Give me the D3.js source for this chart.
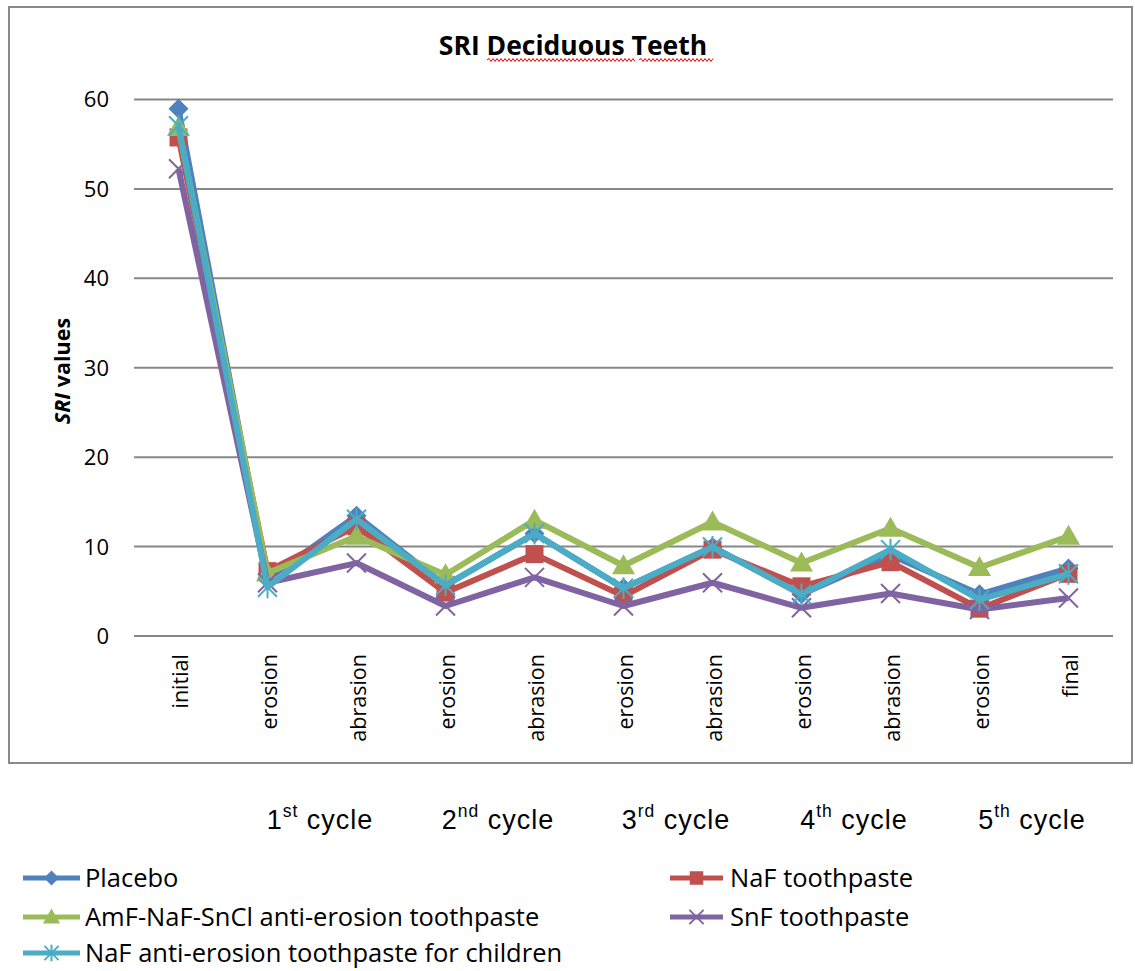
<!DOCTYPE html>
<html><head><meta charset="utf-8">
<script src="https://cdn.jsdelivr.net/npm/d3@7"></script>
<style>body{margin:0;background:#fff}svg{display:block}</style>
</head><body>
<svg id="c" width="1135" height="971"></svg>
<script>
// ---- data ----
const categories = ["initial","erosion","abrasion","erosion","abrasion","erosion","abrasion","erosion","abrasion","erosion","final"];
const yTicks = [0,10,20,30,40,50,60];
const cycleNums = ["1","2","3","4","5"];
const cycleSups = ["st","nd","rd","th","th"];
const seriesNames = ["Placebo","NaF toothpaste","AmF-NaF-SnCl anti-erosion toothpaste","SnF toothpaste","NaF anti-erosion toothpaste for children"];
const placebo  = [58.9, 6.3, 13.4, 5.6, 11.4, 5.3, 9.9, 4.6, 9.0, 4.6, 7.5];
const naf      = [55.7, 7.2, 12.2, 4.8,  9.1, 4.4, 9.6, 5.5, 8.2, 3.0, 6.9];
const amf      = [56.8, 7.0, 11.1, 6.8, 12.9, 7.8, 12.7, 8.1, 12.0, 7.6, 11.1];
const snf      = [52.2, 5.9,  8.1, 3.3,  6.5, 3.3, 5.9, 3.1, 4.7, 2.9, 4.2];
const children = [57.0, 5.4, 13.0, 5.6, 11.4, 5.3, 9.9, 4.6, 9.6, 4.0, 6.9];
const seriesValues = [placebo, naf, amf, snf, children];

// ---- styles ----
const colors = ["#4F81BD","#C0504D","#9BBB59","#8064A2","#4BACC6"];
const markers = ["diamond","square","triangle","x","asterisk"];

const svg = d3.select("#c");

// outer frame
svg.append("rect").attr("x",9).attr("y",7).attr("width",1123).attr("height",756)
  .attr("fill","#fff").attr("stroke","#898989").attr("stroke-width",2);

const pLeft = 134, pRight = 1113, pTop = 99, pBottom = 635.5;
const x = d3.scalePoint().domain(d3.range(categories.length)).range([pLeft,pRight]).padding(0.5);
const y = d3.scaleLinear().domain([0,60]).range([pBottom,pTop]);

// title
svg.append("text").attr("x",573).attr("y",55).attr("text-anchor","middle")
  .attr("font-family","Open Sans").attr("font-weight","bold").attr("font-size",26.5)
  .attr("fill","#000").text("SRI Deciduous Teeth");
// spell-check squiggle
function squiggle(x0,x1,yy){
  let d = `M${x0},${yy}`; let up = true;
  for(let xx=x0+2; xx<=x1; xx+=2){ d += `L${xx},${yy + (up?-1.5:1.5)}`; up=!up; }
  return d;
}
svg.append("path").attr("d",squiggle(487,635,60)).attr("fill","none").attr("stroke","#e00").attr("stroke-width",1);
svg.append("path").attr("d",squiggle(639,713,60)).attr("fill","none").attr("stroke","#e00").attr("stroke-width",1);

// y axis with gridlines
const yAxis = svg.append("g").attr("transform",`translate(${pLeft},0)`)
  .call(d3.axisLeft(y).tickValues(yTicks).tickSize(-(pRight-pLeft)).tickPadding(25));
yAxis.select(".domain").remove();
yAxis.selectAll(".tick line").attr("stroke","#878787").attr("stroke-width",2);
yAxis.selectAll(".tick text").attr("font-family","Open Sans").attr("font-size",22).attr("fill","#000").attr("dy","0.36em");

// y title
const yt = svg.append("text").attr("transform","translate(70,371) rotate(-90)")
  .attr("text-anchor","middle").attr("font-family","Open Sans").attr("font-weight","bold").attr("font-size",21.5).attr("fill","#000");
yt.append("tspan").attr("font-style","italic").text("SRI");
yt.append("tspan").text(" values");

// x labels
svg.append("g").selectAll("text").data(categories).join("text")
  .attr("transform",(d,i)=>`translate(${x(i)+9},654) rotate(-90)`)
  .attr("text-anchor","end").attr("font-family","Open Sans").attr("font-size",21.5).attr("fill","#000")
  .text(d=>d);

// cycle labels
cycleNums.forEach((n,k)=>{
  const cx = (x(2*k+1)+x(2*k+2))/2 + 8;
  const t = svg.append("text").attr("x",cx).attr("y",829).attr("text-anchor","middle")
    .attr("font-family","Liberation Sans, Arial").attr("font-size",27).attr("letter-spacing",1).attr("fill","#000");
  t.append("tspan").text(n);
  t.append("tspan").attr("font-size",17.5).attr("dy",-12).text(cycleSups[k]);
  t.append("tspan").attr("dy",12).text(" cycle");
});

// marker drawing
function drawMarker(g, type, color, s){
  if(type==="diamond"){
    g.append("path").attr("d",`M0,${-10*s}L${10*s},0L0,${10*s}L${-10*s},0Z`).attr("fill",color);
  } else if(type==="square"){
    g.append("rect").attr("x",-9*s).attr("y",-9*s).attr("width",18*s).attr("height",18*s).attr("fill",color);
  } else if(type==="triangle"){
    g.append("path").attr("d",`M0,${-11.5*s}L${11.5*s},${8.5*s}L${-11.5*s},${8.5*s}Z`).attr("fill",color);
  } else if(type==="x"){
    const r=9.5*s;
    g.append("path").attr("d",`M${-r},${-r}L${r},${r}M${-r},${r}L${r},${-r}`).attr("stroke",color).attr("stroke-width",2).attr("fill","none");
  } else if(type==="asterisk"){
    const r=9.5*s;
    g.append("path").attr("d",`M${-r},${-r}L${r},${r}M${-r},${r}L${r},${-r}M0,${-r*1.15}L0,${r*1.15}`).attr("stroke",color).attr("stroke-width",2).attr("fill","none");
  }
}

// series
const line = d3.line().x((d,i)=>x(i)).y(d=>y(d));
seriesValues.forEach((vals,si)=>{
  const g = svg.append("g");
  g.append("path").datum(vals).attr("d",line).attr("fill","none")
    .attr("stroke",colors[si]).attr("stroke-width",6).attr("stroke-linejoin","round");
  vals.forEach((v,i)=>{
    const mg = g.append("g").attr("transform",`translate(${x(i)},${y(v)})`);
    drawMarker(mg, markers[si], colors[si], 1);
  });
});

// legend
const legendPos = [[0,878],[1,878],[0,917],[1,917],[0,953]];
const colX = [[23,80,85],[670,723,730]];
seriesNames.forEach((name,si)=>{
  const [c,ly] = legendPos[si];
  const [x0,x1,tx] = colX[c];
  const g = svg.append("g");
  g.append("line").attr("x1",x0).attr("x2",x1).attr("y1",ly).attr("y2",ly)
    .attr("stroke",colors[si]).attr("stroke-width",5);
  const mg = g.append("g").attr("transform",`translate(${(x0+x1)/2},${ly})`);
  drawMarker(mg, markers[si], colors[si], 0.75);
  g.append("text").attr("x",tx).attr("y",ly).attr("dy","0.36em")
    .attr("font-family","Open Sans").attr("font-size",25.5).attr("fill","#000").text(name);
});
</script>
</body></html>
